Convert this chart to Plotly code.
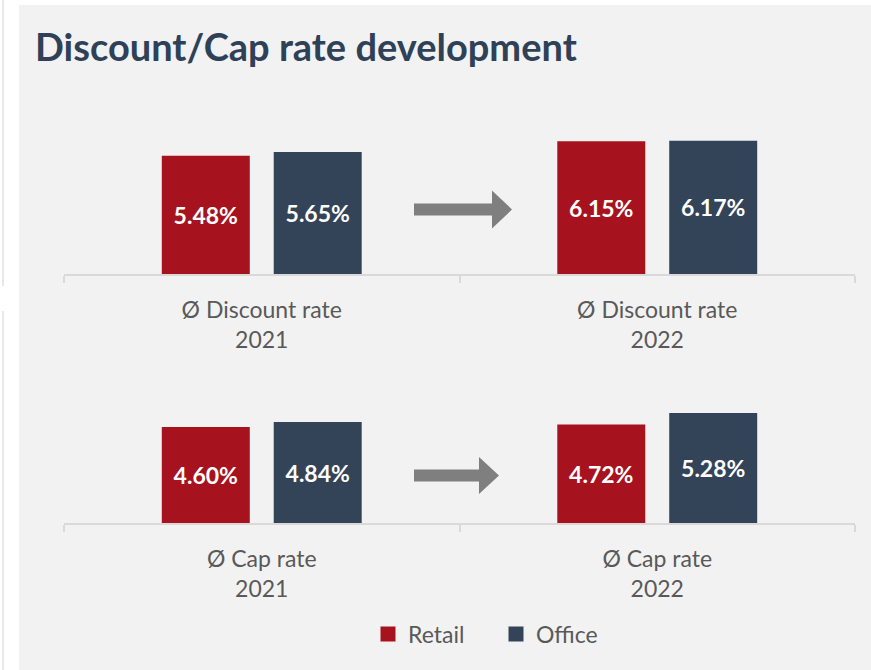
import plotly.graph_objects as go

# ---------------- data ----------------
categories_top = ["Ø Discount rate<br>2021", "Ø Discount rate<br>2022"]
categories_bottom = ["Ø Cap rate<br>2021", "Ø Cap rate<br>2022"]
series_names = ["Retail", "Office"]
discount_retail = [5.48, 6.15]
discount_office = [5.65, 6.17]
cap_retail = [4.60, 4.72]
cap_office = [4.84, 5.28]

# ---------------- style ----------------
W, H = 871, 670
RETAIL = "#A6121E"
OFFICE = "#334358"
FONT = "Lato"
AXIS_GRAY = "#D9D9D9"
TEXT_GRAY = "#595959"
ARROW_GRAY = "#7F7F7F"


def px_x(x):
    return x / W


def px_y(y):
    return 1 - y / H


fig = go.Figure()


def add_bars(cats, retail, office, xa, ya):
    for name, vals, col in ((series_names[0], retail, RETAIL), (series_names[1], office, OFFICE)):
        fig.add_trace(go.Bar(
            x=cats, y=vals, name=name, marker=dict(color=col, line=dict(width=0)),
            texttemplate="<b>%{y:.2f}%</b>", textposition="inside",
            insidetextanchor="middle", textangle=0,
            textfont=dict(color="white", size=23, family=FONT),
            xaxis=xa, yaxis=ya, showlegend=False, hoverinfo="skip",
            offsetgroup=name,
        ))


add_bars(categories_top, discount_retail, discount_office, "x", "y")
add_bars(categories_bottom, cap_retail, cap_office, "x2", "y2")

# legend entries
for name, col in ((series_names[0], RETAIL), (series_names[1], OFFICE)):
    fig.add_trace(go.Scatter(
        x=[None], y=[None], mode="markers", name=name,
        marker=dict(symbol="square", size=15, color=col),
        xaxis="x2", yaxis="y2", showlegend=True,
    ))

xdom = [px_x(64), px_x(855)]
top_base, top_scale = 274, 21.6
bot_base, bot_scale = 523, 20.85
yr = 7.0

xaxis_style = dict(
    domain=xdom, type="category", showgrid=False, zeroline=False,
    showline=True, linecolor=AXIS_GRAY, linewidth=2,
    ticks="outside", tickson="boundaries", ticklen=7, tickwidth=2, tickcolor=AXIS_GRAY,
    tickfont=dict(size=23, color=TEXT_GRAY, family=FONT), fixedrange=True,
    ticklabelstandoff=14,
)
fig.update_layout(
    xaxis=dict(xaxis_style, anchor="y"),
    xaxis2=dict(xaxis_style, anchor="y2"),
    yaxis=dict(domain=[px_y(top_base), px_y(top_base - yr * top_scale)], range=[0, yr],
               visible=False, showgrid=False, zeroline=False),
    yaxis2=dict(domain=[px_y(bot_base), px_y(bot_base - yr * bot_scale)], range=[0, yr],
                visible=False, showgrid=False, zeroline=False),
    barmode="group", bargap=0.434, bargroupgap=0.214,
    width=W, height=H, margin=dict(l=0, r=0, t=0, b=0),
    paper_bgcolor="white", plot_bgcolor="rgba(0,0,0,0)",
    font=dict(family=FONT, color=TEXT_GRAY),
    title=dict(text="<b>Discount/Cap rate development</b>", x=px_x(35), xanchor="left",
               y=px_y(48), yanchor="middle", xref="paper", yref="paper",
               font=dict(size=38, color="#2F4157", family=FONT)),
    legend=dict(orientation="h", x=px_x(368), xanchor="left", y=px_y(634), yanchor="middle",
                font=dict(size=23, color=TEXT_GRAY, family=FONT), bgcolor="rgba(0,0,0,0)",
                entrywidth=83, entrywidthmode="pixels",
                itemclick=False, itemdoubleclick=False),
)

shapes = [
    dict(type="rect", xref="paper", yref="paper", x0=px_x(19), x1=1, y0=0, y1=px_y(5),
         fillcolor="#F2F2F2", line=dict(width=0), layer="below"),
    dict(type="line", xref="paper", yref="paper", x0=px_x(3), x1=px_x(3), y0=px_y(0), y1=px_y(286),
         line=dict(color="#E8E8E8", width=2), layer="below"),
    dict(type="line", xref="paper", yref="paper", x0=px_x(3), x1=px_x(3), y0=px_y(311), y1=px_y(670),
         line=dict(color="#E8E8E8", width=2), layer="below"),
]


def arrow(x0, x1, xh, yc, shaft_h, head_h):
    pts = [(x0, yc - shaft_h / 2), (xh, yc - shaft_h / 2), (xh, yc - head_h / 2), (x1, yc),
           (xh, yc + head_h / 2), (xh, yc + shaft_h / 2), (x0, yc + shaft_h / 2)]
    path = "M " + " L ".join(f"{px_x(a):.5f},{px_y(b):.5f}" for a, b in pts) + " Z"
    return dict(type="path", xref="paper", yref="paper", path=path,
                fillcolor=ARROW_GRAY, line=dict(width=0))


shapes.append(arrow(414, 512, 492, 209.5, 12, 38))
shapes.append(arrow(414, 499, 479, 475.5, 12, 37))
fig.update_layout(shapes=shapes)

fig.write_html("out.html", config={"displayModeBar": False},
               post_script="document.body.style.margin='0';document.body.style.padding='0';")
